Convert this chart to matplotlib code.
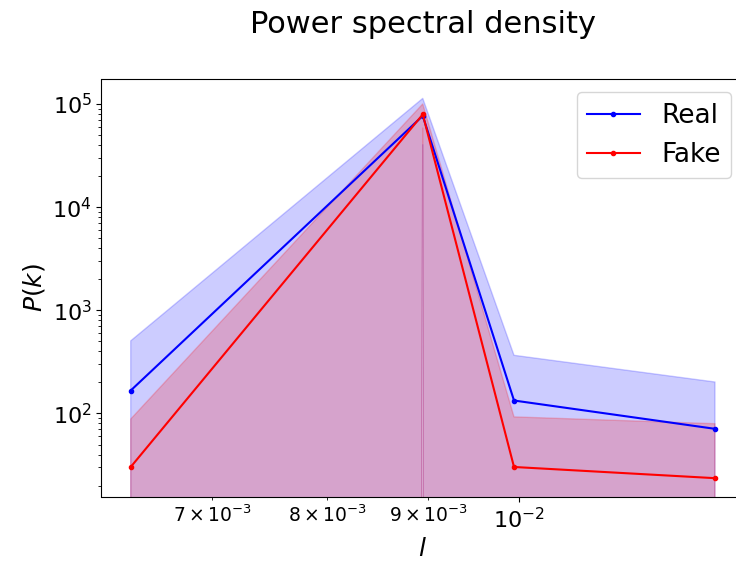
import numpy as np
import matplotlib
matplotlib.use("Agg")
import matplotlib.pyplot as plt

# Wavenumbers and power spectrum statistics (mean and spread)
k = [6.366e-3, 8.941e-3, 9.942e-3, 1.256e-2]
real_mean = [167.0, 76900.0, 133.6, 71.0]
real_std = [339.0, 36600.0, 233.0, 131.0]
fake_mean = [30.3, 79400.0, 30.3, 23.6]
fake_std = [58.0, 20900.0, 62.4, 56.0]

k = np.array(k)
real_mean = np.array(real_mean)
real_std = np.array(real_std)
fake_mean = np.array(fake_mean)
fake_std = np.array(fake_std)

fig = plt.figure(figsize=(7.36, 5.65), dpi=100)
ax = fig.add_axes([101.5 / 736, 1 - 497 / 565, (744.2 - 101.5) / 736, (497 - 79) / 565])
ax.set_xscale("log")
ax.set_yscale("log")

ax.plot(k, real_mean, color="blue", marker=".", label="Real")
ax.fill_between(k, real_mean - real_std, real_mean + real_std, color="blue", alpha=0.2)
ax.plot(k, fake_mean, color="red", marker=".", label="Fake")
ax.fill_between(k, fake_mean - fake_std, fake_mean + fake_std, color="red", alpha=0.2)

ax.set_ylim(15.5, 1.75e5)
ax.set_title("Power spectral density", fontsize=22, pad=33)
ax.set_xlabel("$l$", fontsize=18)
ax.set_ylabel("$P(k)$", fontsize=18)
ax.tick_params(axis="both", which="major", labelsize=16)
ax.tick_params(axis="x", which="minor", labelsize=13.5)
ax.legend(loc="upper right", fontsize=19)

fig.savefig("out.png", dpi=100)
